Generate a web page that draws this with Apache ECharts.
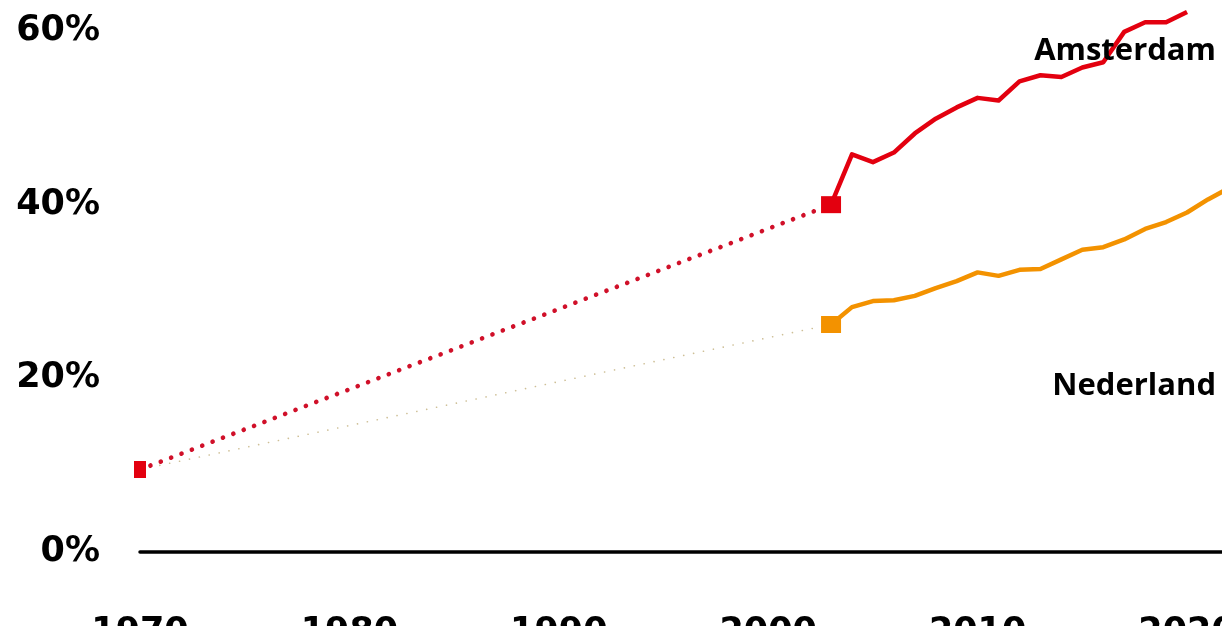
<!DOCTYPE html>
<html>
<head>
<meta charset="utf-8">
<script src="https://cdn.jsdelivr.net/npm/echarts@6/dist/echarts.min.js"></script>
<style>
  html, body { margin: 0; padding: 0; background: #ffffff; }
  #chart { width: 1222px; height: 626px; }
</style>
</head>
<body>
<div id="chart"></div>
<script>
// Share of residents (%) — Amsterdam vs. Nederland
const startYear = 1970;
const startValue = 9.5;          // both series start from the same 1970 value
const linkYear = 2003;           // annual figures are available from here on
const years = [2003, 2004, 2005, 2006, 2007, 2008, 2009, 2010, 2011, 2012,
               2013, 2014, 2015, 2016, 2017, 2018, 2019, 2020, 2021, 2022];
const amsterdam = [40.0, 45.8, 44.9, 46.0, 48.2, 49.9, 51.2, 52.3, 52.0, 54.2,
                   54.9, 54.7, 55.8, 56.4, 59.9, 61.0, 61.0, 62.2];
const nederland = [26.2, 28.2, 28.9, 29.0, 29.5, 30.4, 31.2, 32.2, 31.8, 32.5,
                   32.6, 33.7, 34.8, 35.1, 36.0, 37.2, 38.0, 39.1, 40.6, 41.9];
const yTicks = [0, 20, 40, 60];
const xTicks = [1970, 1980, 1990, 2000, 2010, 2020];

const RED = '#e3000f';
const RED_DOT = '#d01029';
const ORANGE = '#f39200';
const axisFont = 'DejaVu Sans';
const labelFont = 'Open Sans';

const pairs = (ys, vs) => vs.map((v, i) => [ys[i], v]);

const chart = echarts.init(document.getElementById('chart'), null, { renderer: 'canvas' });

chart.setOption({
  animation: false,
  backgroundColor: '#ffffff',
  grid: { left: 140, right: 0, top: 31, bottom: 74, outerBoundsMode: 'none', containLabel: false },
  xAxis: {
    type: 'value',
    min: startYear,
    max: 2021.67,
    interval: 10,
    axisLine: { show: true, lineStyle: { color: '#000000', width: 3.5 } },
    axisTick: { show: false },
    splitLine: { show: false },
    axisLabel: {
      margin: 63,
      color: '#000000',
      fontFamily: axisFont,
      fontWeight: 'bold',
      fontSize: 35,
      showMaxLabel: false,
      formatter: v => (xTicks.includes(v) ? String(v) : '')
    }
  },
  yAxis: {
    type: 'value',
    min: yTicks[0],
    max: yTicks[yTicks.length - 1],
    interval: 20,
    axisLine: { show: false },
    axisTick: { show: false },
    splitLine: { show: false },
    axisLabel: {
      margin: 40,
      color: '#000000',
      fontFamily: axisFont,
      fontWeight: 'bold',
      fontSize: 35,
      formatter: v => v + '%'
    }
  },
  series: [
    {
      // faint link for Nederland, 1970 → 2003
      type: 'line',
      clip: false,
      z: 2,
      data: [
        { value: [startYear, startValue], symbol: 'none' },
        { value: [linkYear, nederland[0]], symbol: 'none' }
      ],
      lineStyle: { color: '#b9a46a', width: 1.6, opacity: 0.7, type: [0.1, 10], cap: 'round' }
    },
    {
      // dotted link for Amsterdam, 1970 → 2003
      type: 'line',
      clip: false,
      z: 3,
      data: [
        { value: [startYear, startValue], symbol: 'none' },
        { value: [linkYear, amsterdam[0]], symbol: 'none' }
      ],
      lineStyle: { color: RED_DOT, width: 4.6, type: [0.1, 11], cap: 'round' }
    },
    {
      name: 'Nederland',
      type: 'line',
      clip: false,
      z: 4,
      showSymbol: false,
      symbol: 'none',
      data: pairs(years, nederland),
      lineStyle: { color: ORANGE, width: 4.5, join: 'round' }
    },
    {
      name: 'Amsterdam',
      type: 'line',
      clip: false,
      z: 5,
      showSymbol: false,
      symbol: 'none',
      data: pairs(years, amsterdam),
      lineStyle: { color: RED, width: 4.5, join: 'round' }
    },
    {
      // square markers at the start and link points
      type: 'scatter',
      clip: false,
      z: 6,
      symbol: 'rect',
      itemStyle: { opacity: 1 },
      data: [
        { value: [startYear, startValue], symbolSize: [12, 17], itemStyle: { color: RED, opacity: 1 } },
        { value: [linkYear, amsterdam[0]], symbolSize: [20, 17], itemStyle: { color: RED, opacity: 1 } },
        { value: [linkYear, nederland[0]], symbolSize: [20, 17], itemStyle: { color: ORANGE, opacity: 1 } }
      ]
    }
  ],
  graphic: [
    {
      type: 'text',
      right: 6,
      top: 36,
      z: 10,
      style: { text: 'Amsterdam', fill: '#000000', font: 'bold 31px "' + labelFont + '"' }
    },
    {
      type: 'text',
      right: 6,
      top: 371,
      z: 10,
      style: { text: 'Nederland', fill: '#000000', font: 'bold 31px "' + labelFont + '"' }
    }
  ]
});
</script>
</body>
</html>
